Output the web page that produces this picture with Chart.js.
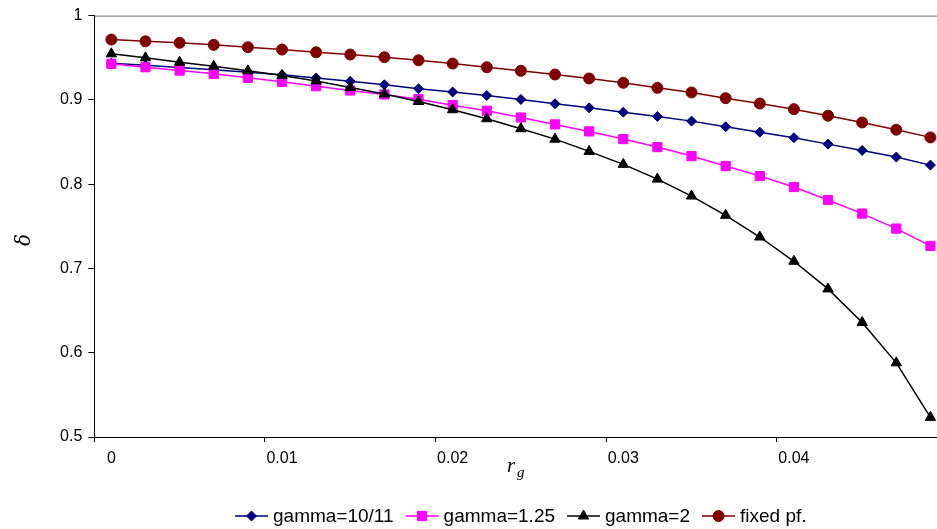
<!DOCTYPE html>
<html>
<head>
<meta charset="utf-8">
<script src="https://cdn.jsdelivr.net/npm/chart.js@4.4.0/dist/chart.umd.min.js"></script>
<style>
html, body { margin: 0; padding: 0; background: #fff; overflow: hidden; }
#wrap { position: relative; width: 955px; height: 529px; }
</style>
</head>
<body>
<div id="wrap"><canvas id="delta-chart"></canvas></div>
<script>
// r_g categories (every 5th one gets a label)
const rg = [0, 0.002, 0.004, 0.006, 0.008, 0.01, 0.012, 0.014, 0.016, 0.018,
            0.02, 0.022, 0.024, 0.026, 0.028, 0.03, 0.032, 0.034, 0.036, 0.038,
            0.04, 0.042, 0.044, 0.046, 0.048];

const gammaTenEleven = [0.9435, 0.9410, 0.9384, 0.9357, 0.9327, 0.9297, 0.9260, 0.9220, 0.9179, 0.9132,
                        0.9094, 0.9052, 0.9005, 0.8954, 0.8906, 0.8854, 0.8803, 0.8748, 0.8681, 0.8617,
                        0.8551, 0.8475, 0.8400, 0.8321, 0.8226];
const gammaOneQuarter = [0.9428, 0.9388, 0.9348, 0.9309, 0.9262, 0.9214, 0.9162, 0.9111, 0.9064, 0.9008,
                         0.8937, 0.8871, 0.8791, 0.8709, 0.8626, 0.8535, 0.8440, 0.8333, 0.8215, 0.8096,
                         0.7966, 0.7812, 0.7651, 0.7473, 0.7267];
const gammaTwo = [0.9546, 0.9499, 0.9447, 0.9399, 0.9345, 0.9289, 0.9224, 0.9147, 0.9070, 0.8981,
                  0.8883, 0.8776, 0.8658, 0.8534, 0.8389, 0.8235, 0.8060, 0.7859, 0.7630, 0.7373,
                  0.7085, 0.6757, 0.6359, 0.5880, 0.5233];
const fixedPf = [0.9716, 0.9695, 0.9677, 0.9653, 0.9625, 0.9597, 0.9565, 0.9538, 0.9506, 0.9470,
                 0.9431, 0.9387, 0.9345, 0.9301, 0.9254, 0.9203, 0.9143, 0.9088, 0.9020, 0.8957,
                 0.8890, 0.8812, 0.8732, 0.8646, 0.8555];

const seriesNames = ['gamma=10/11', 'gamma=1.25', 'gamma=2', 'fixed pf.'];
const seriesColors = ['#000080', '#FF00FF', '#000000', '#800000'];
const yTicks = [0.5, 0.6, 0.7, 0.8, 0.9, 1];

const tickFont = { family: '"Liberation Sans", Arial, sans-serif', size: 16 };

function marker(ctx, style, x, y, r, color) {
    ctx.save();
    ctx.fillStyle = color;
    ctx.strokeStyle = color;
    ctx.lineWidth = 1;
    ctx.beginPath();
    if (style === 'rectRot') {
        ctx.moveTo(x, y - r); ctx.lineTo(x + r, y); ctx.lineTo(x, y + r); ctx.lineTo(x - r, y);
    } else if (style === 'rect') {
        const s = r * Math.SQRT1_2;
        ctx.rect(x - s, y - s, 2 * s, 2 * s);
    } else if (style === 'triangle') {
        ctx.moveTo(x, y - r);
        ctx.lineTo(x + r * 0.866, y + r * 0.5);
        ctx.lineTo(x - r * 0.866, y + r * 0.5);
    } else {
        ctx.arc(x, y, r, 0, Math.PI * 2);
    }
    ctx.closePath();
    ctx.fill();
    ctx.stroke();
    ctx.restore();
}

const extras = {
    id: 'extras',
    afterDraw(chart) {
        const ctx = chart.ctx;
        const area = chart.chartArea;
        ctx.save();
        // plot area top border
        ctx.strokeStyle = '#707070';
        ctx.lineWidth = 1;
        ctx.beginPath();
        ctx.moveTo(area.left, area.top + 0.5);
        ctx.lineTo(area.right, area.top + 0.5);
        ctx.stroke();

        // axis titles
        ctx.fillStyle = '#000';
        ctx.textBaseline = 'alphabetic';
        ctx.font = 'italic 20px "DejaVu Serif", "Liberation Serif", serif';
        ctx.save();
        ctx.translate(30, 240);
        ctx.rotate(-Math.PI / 2);
        ctx.textAlign = 'center';
        ctx.fillText('δ', 0, 0);
        ctx.restore();

        ctx.textAlign = 'left';
        ctx.font = 'italic 21px "Liberation Serif", serif';
        ctx.fillText('r', 507, 472);
        ctx.font = 'italic 15px "Liberation Serif", serif';
        ctx.fillText('g', 517, 477);

        // legend
        ctx.font = '19px "Liberation Sans", Arial, sans-serif';
        ctx.textBaseline = 'middle';
        let x = 235;
        const y = 516;
        chart.data.datasets.forEach(ds => {
            ctx.strokeStyle = ds.borderColor;
            ctx.lineWidth = 1.5;
            ctx.beginPath();
            ctx.moveTo(x, y);
            ctx.lineTo(x + 33, y);
            ctx.stroke();
            marker(ctx, ds.pointStyle, x + 16.5, y, ds.pointRadius, ds.borderColor);
            ctx.fillStyle = '#000';
            ctx.fillText(ds.label, x + 38, y + 1);
            x += 38 + ctx.measureText(ds.label).width + 12;
        });
        ctx.restore();
    }
};

const styles = ['rectRot', 'rect', 'triangle', 'circle'];
const radii = [5, 6.5, 6, 5.5];
const values = [gammaTenEleven, gammaOneQuarter, gammaTwo, fixedPf];

new Chart(document.getElementById('delta-chart'), {
    type: 'line',
    data: {
        labels: rg,
        datasets: values.map((v, i) => ({
            label: seriesNames[i],
            data: v,
            borderColor: seriesColors[i],
            backgroundColor: seriesColors[i],
            pointBackgroundColor: seriesColors[i],
            pointBorderColor: seriesColors[i],
            pointStyle: styles[i],
            pointRadius: radii[i],
            pointBorderWidth: 1,
            borderWidth: 1.5,
            tension: 0,
            fill: false,
            order: 4 - i
        }))
    },
    options: {
        responsive: true,
        maintainAspectRatio: false,
        animation: false,
        events: [],
        layout: { padding: { top: 15, right: 5.7, left: 0, bottom: 0 } },
        plugins: {
            legend: { display: false },
            tooltip: { enabled: false }
        },
        scales: {
            x: {
                type: 'category',
                offset: true,
                afterFit: scale => { scale.height = 92; },
                border: { color: '#000', width: 1 },
                grid: {
                    offset: true,
                    drawOnChartArea: false,
                    drawTicks: true,
                    tickLength: 5,
                    tickColor: c => (c.index % 5 === 0 ? '#000' : 'rgba(0,0,0,0)')
                },
                ticks: {
                    autoSkip: false,
                    maxRotation: 0,
                    minRotation: 0,
                    padding: 7,
                    color: '#000',
                    font: tickFont,
                    callback: (val, idx) => (idx % 5 === 0 ? String(rg[idx]) : '')
                }
            },
            y: {
                min: 0.5,
                max: 1,
                afterFit: scale => { scale.width = 94.3; },
                afterBuildTicks: scale => { scale.ticks = yTicks.map(v => ({ value: v })); },
                border: { color: '#000', width: 1 },
                grid: {
                    drawOnChartArea: false,
                    drawTicks: true,
                    tickLength: 6,
                    tickColor: '#000'
                },
                ticks: {
                    padding: 6,
                    color: '#000',
                    font: tickFont,
                    callback: v => String(Number(v.toFixed(1)))
                }
            }
        }
    },
    plugins: [extras]
});
</script>
</body>
</html>
